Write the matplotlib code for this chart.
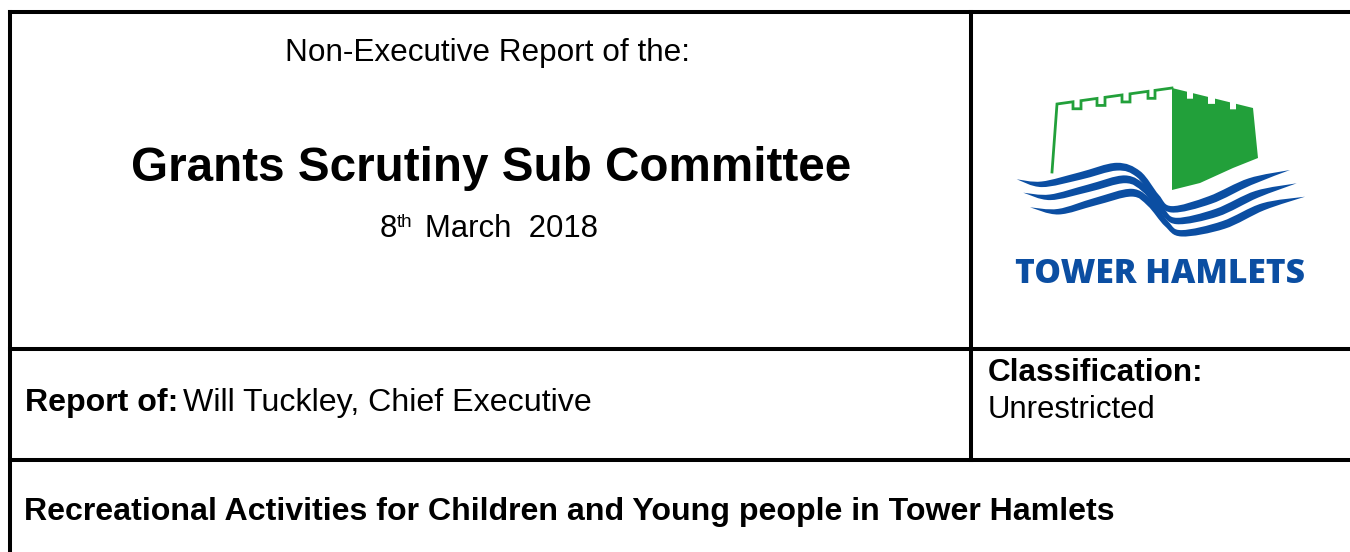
import matplotlib
matplotlib.use("Agg")
import matplotlib.pyplot as plt
from matplotlib.path import Path
from matplotlib.patches import PathPatch, Polygon

# ---------------- TEXT CONTENT ----------------
report_type = "Non-Executive Report of the:"
committee = "Grants Scrutiny Sub Committee"
meeting_day = "8"
day_suffix = "th"
meeting_rest = "March  2018"
report_of_label = "Report of:"
report_of_name = "Will Tuckley, Chief Executive"
class_label = "Classification:"
class_value = "Unrestricted"
report_title = "Recreational Activities for Children and Young people in Tower Hamlets"
logo_name = "TOWER HAMLETS"

# ---------------- PAGE LAYOUT (pixels) ----------------
W, H = 1350, 552
row_lines = [12, 349, 460]
col_split = 971
left_edge = 10
FONT = "Liberation Sans"
BLUE = "#0b4ea2"
GREEN = "#22a03a"

fig = plt.figure(figsize=(W / 100, H / 100), dpi=100, facecolor="white")
ax = fig.add_axes([0, 0, 1, 1])
ax.set_xlim(0, W)
ax.set_ylim(H, 0)
ax.axis("off")
renderer = fig.canvas.get_renderer()


def fit_text(x0, x1, y, s, weight="normal", color="black", family=FONT):
    # size a line of text so it spans x0..x1 on the page
    t = ax.text(x0, y, s, fontsize=10, fontweight=weight, color=color,
                family=family, ha="left", va="baseline")
    w = t.get_window_extent(renderer).width
    t.set_fontsize(10 * (x1 - x0) / w)
    return t


def smooth_path(pts):
    # Catmull-Rom through the points, written as cubic Bezier pieces
    verts = [pts[0]]
    n = len(pts)
    for i in range(n - 1):
        p0 = pts[max(i - 1, 0)]
        p1 = pts[i]
        p2 = pts[i + 1]
        p3 = pts[min(i + 2, n - 1)]
        c1 = (p1[0] + (p2[0] - p0[0]) / 6, p1[1] + (p2[1] - p0[1]) / 6)
        c2 = (p2[0] - (p3[0] - p1[0]) / 6, p2[1] - (p3[1] - p1[1]) / 6)
        verts += [c1, c2, p2]
    return verts


# ---------------- TABLE RULES ----------------
lw = 2.9
for y in row_lines:
    ax.plot([left_edge, W], [y, y], color="black", lw=lw, solid_capstyle="projecting")
ax.plot([left_edge, left_edge], [row_lines[0], H], color="black", lw=lw, solid_capstyle="projecting")
ax.plot([col_split, col_split], [row_lines[0], row_lines[2]], color="black", lw=lw,
        solid_capstyle="projecting")

# ---------------- HEADER TEXT ----------------
fit_text(285, 691, 61, report_type)
fit_text(131, 852, 181, committee, weight="bold")

t8 = fit_text(380, 395, 237, meeting_day)
tm = fit_text(425, 599, 237, meeting_rest)
ax.text(397, 227, day_suffix, fontsize=tm.get_fontsize() * 0.6, family=FONT,
        ha="left", va="baseline")
t8.set_fontsize(tm.get_fontsize())

tn = fit_text(183, 593, 411, report_of_name)
ax.text(25, 411, report_of_label, fontsize=tn.get_fontsize(), fontweight="bold",
        family=FONT, ha="left", va="baseline")

fit_text(988, 1203, 381, class_label, weight="bold")
fit_text(988, 1157, 418, class_value)

fit_text(24, 1116, 520, report_title, weight="bold")

# ---------------- LOGO ----------------
# castle outline (left block)
def top_left(x):
    return 104 - (x - 1057) * 16 / 115

outline = [(1052, 172), (1057, 104)]
for a, b in [(1073, 1081), (1097, 1105), (1122, 1130), (1148, 1155)]:
    outline += [(a, top_left(a)), (a, top_left(a) + 7), (b, top_left(a) + 7), (b, top_left(b))]
outline.append((1172, 88))
ax.plot([p[0] for p in outline], [p[1] for p in outline], color=GREEN, lw=2.0,
        solid_joinstyle="miter")

# castle solid block (right)
def top_right(x):
    return 88 + (x - 1172) * 20 / 81

block = [(1172, 88)]
for a, b in [(1187, 1193), (1208, 1215), (1230, 1236)]:
    block += [(a, top_right(a)), (a, top_right(a) + 7), (b, top_right(a) + 7), (b, top_right(b))]
block += [(1253, 108), (1258, 158), (1233, 168), (1200, 183), (1172, 190)]
ax.add_patch(Polygon(block, closed=True, facecolor=GREEN, edgecolor="none"))

# three river waves: centre lines, tapering at both tips
waves = [
    [(1016.7, 179.3), (1041.7, 184.3), (1080, 176), (1116.7, 166.7), (1138.3, 174),
     (1156.7, 196.7), (1171.7, 209.3), (1210, 200), (1250, 181.7), (1290, 170)],
    [(1023.3, 192.7), (1050, 197.3), (1088.3, 188.3), (1125, 179.3), (1145, 189.3),
     (1161.7, 210), (1176.7, 221), (1216.7, 212.7), (1256.7, 194.3), (1296.7, 183.3)],
    [(1030, 207.3), (1058.3, 211.7), (1095, 201.7), (1131.7, 192.7), (1150, 203.3),
     (1166.7, 224), (1181.7, 233.3), (1223.3, 225), (1263.3, 206.7), (1305, 196.7)],
]
half_widths = [0, 2.8, 3.7, 3.9, 3.4, 2.8, 3.2, 4.0, 3.6, 0]
for pts in waves:
    upper, lower = [pts[0]], [pts[0]]
    for i in range(1, len(pts) - 1):
        tx = pts[i + 1][0] - pts[i - 1][0]
        ty = pts[i + 1][1] - pts[i - 1][1]
        d = (tx * tx + ty * ty) ** 0.5
        nx, ny = ty / d, -tx / d
        h = half_widths[i]
        upper.append((pts[i][0] + h * nx, pts[i][1] + h * ny))
        lower.append((pts[i][0] - h * nx, pts[i][1] - h * ny))
    upper.append(pts[-1])
    lower.append(pts[-1])
    up = smooth_path(upper)
    lo = smooth_path(lower[::-1])
    verts = up + lo[1:] + [pts[0]]
    codes = [Path.MOVETO] + [Path.CURVE4] * (len(up) - 1) + [Path.CURVE4] * (len(lo) - 1) \
        + [Path.CLOSEPOLY]
    ax.add_patch(PathPatch(Path(verts, codes), facecolor=BLUE, edgecolor="none"))

fit_text(1015, 1305, 283, logo_name, weight=800, color=BLUE, family="Open Sans")

fig.savefig("out.png", dpi=100, facecolor="white")
